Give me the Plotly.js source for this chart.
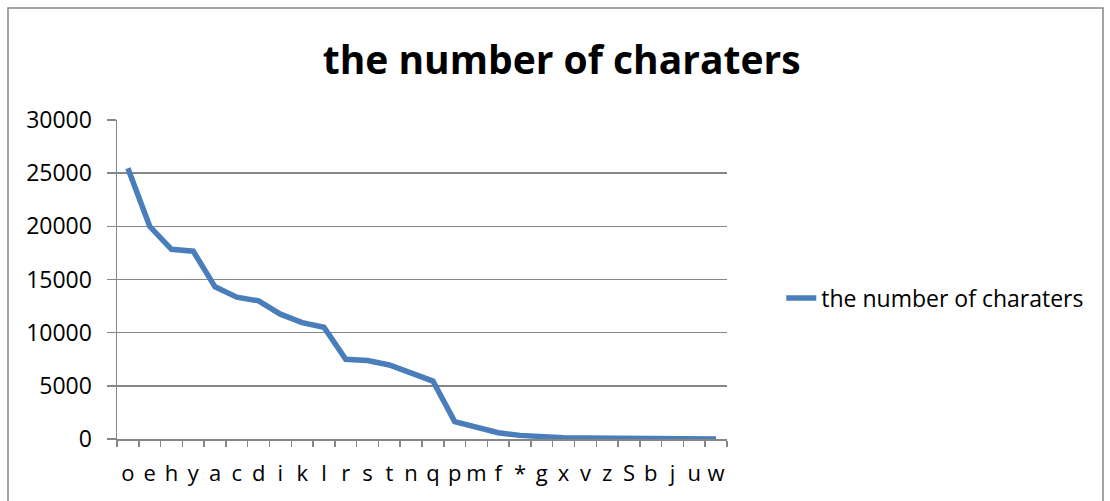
<!DOCTYPE html>
<html>
<head>
<meta charset="utf-8">
<script src="https://cdn.plot.ly/plotly-3.0.1.min.js"></script>
<style>
  html, body { margin: 0; padding: 0; background: #ffffff; }
  #chart { width: 1110px; height: 501px; }
</style>
</head>
<body>
<div id="chart"></div>
<script>
const categories = ["o","e","h","y","a","c","d","i","k","l","r","s","t","n","q","p","m","f","*","g","x","v","z","S","b","j","u","w"];
const counts = [25470, 20000, 17840, 17660, 14310, 13340, 12990, 11740, 10950, 10510, 7490, 7380, 6960, 6140, 5450, 1630, 1160, 590, 340, 180, 120, 90, 70, 50, 40, 30, 20, 10];
const seriesName = "the number of charaters";
const chartTitle = "the number of charaters";
const yTicks = [0, 5000, 10000, 15000, 20000, 25000, 30000];

const FONT = "Open Sans, DejaVu Sans, sans-serif";
const GRID = "#868686";

const trace = {
  type: "scatter",
  mode: "lines",
  x: categories,
  y: counts,
  name: seriesName,
  line: { color: "#4A7EBB", width: 5.5, shape: "linear" },
  showlegend: true
};

const layout = {
  width: 1110,
  height: 501,
  margin: { l: 117, r: 383, t: 120, b: 62, pad: 0 },
  paper_bgcolor: "#ffffff",
  plot_bgcolor: "#ffffff",
  font: { family: FONT, color: "#000000", size: 23 },
  title: {
    text: "<b>" + chartTitle + "</b>",
    font: { family: FONT, size: 39, color: "#000000" },
    x: 0.506, xref: "container", xanchor: "center",
    y: 60, yref: "container", yanchor: "middle"
  },
  xaxis: {
    type: "category",
    tickmode: "array",
    tickvals: categories,
    ticktext: categories,
    tickangle: 0,
    tickson: "boundaries",
    ticks: "outside",
    ticklen: 6,
    tickwidth: 1.5,
    tickcolor: GRID,
    showline: true,
    linecolor: GRID,
    linewidth: 1.5,
    showgrid: false,
    zeroline: false,
    tickfont: { family: FONT, size: 22, color: "#000000" },
    ticklabelstandoff: 14,
    range: [-0.5, categories.length - 0.5],
    fixedrange: true
  },
  yaxis: {
    range: [0, 30000],
    tickvals: yTicks,
    ticktext: yTicks.map(String),
    ticks: "outside",
    ticklen: 9,
    tickwidth: 1.5,
    tickcolor: GRID,
    showline: true,
    linecolor: GRID,
    linewidth: 1.5,
    showgrid: true,
    gridcolor: GRID,
    gridwidth: 1.5,
    zeroline: false,
    tickfont: { family: FONT, size: 23, color: "#000000" },
    ticklabelstandoff: 10,
    fixedrange: true
  },
  legend: {
    x: 1.089, xanchor: "left",
    y: 0.442, yanchor: "middle",
    font: { family: FONT, size: 23, color: "#000000" },
    bgcolor: "rgba(0,0,0,0)",
    borderwidth: 0
  },
  shapes: [
    {
      type: "path",
      xref: "paper", yref: "paper",
      path: "M -0.1787,-0.3 L -0.1787,1.351 L 1.6164,1.351 L 1.6164,-0.3",
      line: { color: GRID, width: 1.5 },
      layer: "below"
    }
  ]
};

Plotly.newPlot("chart", [trace], layout, { displayModeBar: false, staticPlot: true });
</script>
</body>
</html>
